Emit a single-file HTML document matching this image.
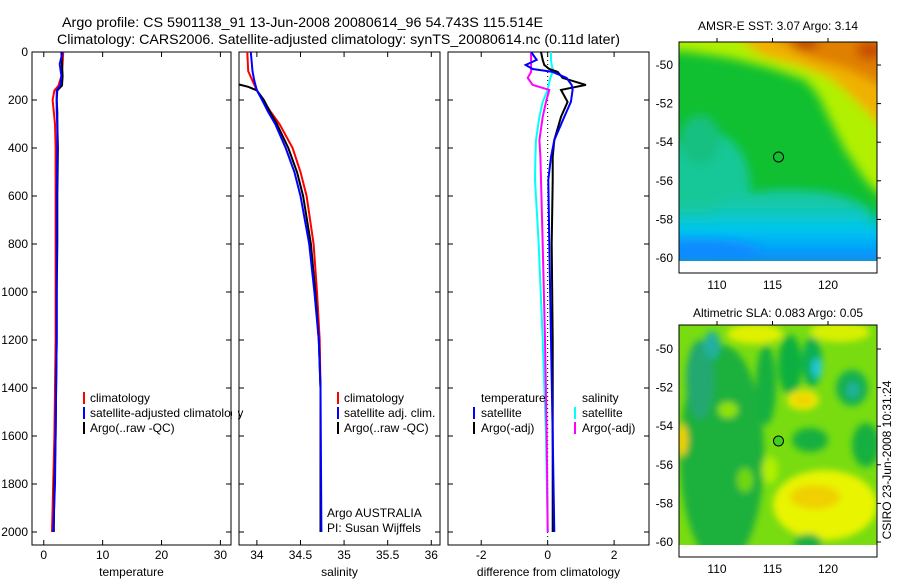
<!DOCTYPE html>
<html><head><meta charset="utf-8"><style>
html,body{margin:0;padding:0;background:#fff;}
svg{display:block;font-family:"Liberation Sans","DejaVu Sans",sans-serif;}
</style></head><body>
<svg id="fig" width="900" height="580" viewBox="0 0 900 580">
<defs>
<filter id="bl" x="-20%" y="-20%" width="140%" height="140%"><feGaussianBlur stdDeviation="5"/></filter>
<filter id="bl2" x="-20%" y="-20%" width="140%" height="140%"><feGaussianBlur stdDeviation="3.5"/></filter>
<clipPath id="c1"><rect x="679" y="42" width="198" height="219"/></clipPath>
<clipPath id="c2"><rect x="679" y="325" width="198" height="220"/></clipPath>
<linearGradient id="gtop" x1="0" y1="0" x2="0" y2="1">
<stop offset="0" stop-color="#00c8e0" stop-opacity="0"/><stop offset="0.4" stop-color="#00c8f0"/><stop offset="1" stop-color="#0a80ff"/></linearGradient>
</defs>
<text x="62" y="27" font-size="14" textLength="481" lengthAdjust="spacingAndGlyphs">Argo profile: CS 5901138_91 13-Jun-2008 20080614_96 54.743S 115.514E</text>
<text x="57" y="44" font-size="14" textLength="563" lengthAdjust="spacingAndGlyphs">Climatology: CARS2006. Satellite-adjusted climatology: synTS_20080614.nc (0.11d later)</text>

<g>
<text x="778" y="30" font-size="12" text-anchor="middle">AMSR-E SST: 3.07 Argo: 3.14</text>
<g clip-path="url(#c1)">
<rect x="660" y="30" width="240" height="250" fill="#10c030"/>
<g filter="url(#bl)">
<ellipse cx="705" cy="185" rx="45" ry="55" fill="#18c898"/>
<ellipse cx="700" cy="140" rx="20" ry="25" fill="#14c080"/>
<ellipse cx="790" cy="215" rx="80" ry="25" fill="#14c8a8"/>
<rect x="660" y="205" width="240" height="60" fill="url(#gtop)"/>
<ellipse cx="700" cy="250" rx="60" ry="12" fill="#0a8cff"/>
<polygon points="660,30 900,30 900,215 865,180 845,150 830,120 818,95 805,80 770,68 730,58 690,52 660,50" fill="#b0f000"/>
<polygon points="730,30 900,30 900,145 870,115 850,95 830,78 800,66 760,55" fill="#f0b000"/>
<polygon points="760,30 900,30 900,95 870,80 845,68 810,58" fill="#e08000"/>
<ellipse cx="805" cy="44" rx="14" ry="6" fill="#c04000"/>
<ellipse cx="870" cy="50" rx="14" ry="10" fill="#c85000"/>
</g>
</g>
<rect x="679" y="261" width="198" height="12" fill="#fff"/>
<rect x="679" y="42" width="198" height="231" fill="none" stroke="#000"/>
<circle cx="778.5" cy="157" r="5" fill="none" stroke="#000"/>
</g>

<g>
<text x="778" y="317" font-size="12" text-anchor="middle">Altimetric SLA: 0.083 Argo: 0.05</text>
<g clip-path="url(#c2)">
<rect x="660" y="320" width="240" height="240" fill="#78dc10"/>
<g filter="url(#bl2)">
<ellipse cx="722" cy="455" rx="42" ry="110" fill="#1cb03c"/>
<ellipse cx="700" cy="380" rx="14" ry="40" fill="#20a870"/>
<ellipse cx="712" cy="345" rx="8" ry="14" fill="#20b0a0"/>
<ellipse cx="682" cy="440" rx="6" ry="16" fill="#f0d000"/>
<ellipse cx="728" cy="410" rx="10" ry="8" fill="#90e400"/>
<ellipse cx="745" cy="480" rx="8" ry="12" fill="#70d810"/>
<ellipse cx="766" cy="385" rx="10" ry="40" fill="#18b040"/>
<ellipse cx="790" cy="365" rx="12" ry="30" fill="#10b040"/>
<ellipse cx="755" cy="334" rx="28" ry="10" fill="#e0f000"/>
<ellipse cx="840" cy="332" rx="30" ry="10" fill="#d8f000"/>
<ellipse cx="812" cy="362" rx="10" ry="25" fill="#10b050"/>
<ellipse cx="817" cy="368" rx="5" ry="10" fill="#20c8e0"/>
<ellipse cx="852" cy="388" rx="16" ry="18" fill="#14b050"/>
<ellipse cx="853" cy="390" rx="6" ry="8" fill="#20b0a0"/>
<ellipse cx="803" cy="400" rx="16" ry="10" fill="#f0e800"/>
<ellipse cx="803" cy="400" rx="10" ry="5" fill="#f0d000"/>
<ellipse cx="810" cy="440" rx="18" ry="12" fill="#14b040"/>
<ellipse cx="866" cy="445" rx="14" ry="22" fill="#14b040"/>
<ellipse cx="825" cy="505" rx="52" ry="35" fill="#e8f400"/>
<ellipse cx="815" cy="497" rx="25" ry="12" fill="#f0d000"/>
<ellipse cx="808" cy="542" rx="14" ry="8" fill="#14b040"/>
<ellipse cx="770" cy="470" rx="8" ry="14" fill="#b0f000"/>
</g>
</g>
<rect x="679" y="545" width="198" height="12" fill="#fff"/>
<rect x="679" y="325" width="198" height="232" fill="none" stroke="#000"/>
<circle cx="778.5" cy="441" r="5" fill="#40d020" stroke="#000"/>
</g>
<text transform="translate(891,460) rotate(-90)" font-size="12" text-anchor="middle">CSIRO 23-Jun-2008 10:31:24</text>
<g id="plots"></g>
</svg>
<script>
// ---- data ----
const tDepth = [0, 50, 100, 140, 160, 200, 250, 300, 400, 600, 800, 1000, 1200, 1400, 1600, 1800, 2000];
const tClim  = [3.3, 3.2, 3.0, 2.5, 1.8, 1.5, 1.7, 1.9, 2.0, 2.0, 2.0, 2.0, 2.0, 1.9, 1.8, 1.6, 1.4];
const tSat   = [3.2, 2.7, 3.0, 2.8, 2.2, 2.2, 2.2, 2.3, 2.3, 2.2, 2.2, 2.2, 2.2, 2.1, 2.0, 1.9, 1.6];
const tArgo  = [3.0, 3.1, 3.2, 3.1, 2.3, 2.2, 2.3, 2.3, 2.4, 2.3, 2.3, 2.2, 2.2, 2.1, 2.0, 1.8, 1.7];
const sDepth = [0, 80, 120, 160, 200, 250, 300, 400, 500, 600, 800, 1000, 1200, 1400, 2000];
const sClim  = [33.89, 33.9, 33.95, 34.0, 34.07, 34.16, 34.26, 34.41, 34.5, 34.57, 34.65, 34.69, 34.72, 34.73, 34.73];
const sSat   = [33.93, 33.95, 33.97, 34.0, 34.06, 34.13, 34.21, 34.33, 34.43, 34.5, 34.6, 34.66, 34.71, 34.73, 34.74];
const aDepth = [135, 145, 160, 200, 250, 300, 400, 500, 600, 800, 1000, 1200, 1400, 2000];
const sArgo  = [33.79, 33.9, 34.0, 34.08, 34.15, 34.23, 34.36, 34.46, 34.53, 34.62, 34.67, 34.71, 34.73, 34.73];
const dDepth  = [0, 33, 54, 71, 83, 108, 137, 158, 208, 270, 367, 437, 533, 800, 1200, 1600, 2000];
const dTSat   = [-0.5, -0.33, -0.66, -0.45, 0.15, 0.57, 0.72, 0.75, 0.7, 0.5, 0.2, 0.1, 0.02, 0.05, 0.1, 0.15, 0.2];
const dTArgo  = [-0.2, -0.15, -0.1, 0.05, 0.3, 0.45, 1.15, 0.4, 0.6, 0.4, 0.2, 0.15, 0.15, 0.12, 0.15, 0.15, 0.15];
const dSSat   = [0.1, 0.1, 0.12, 0.15, 0.15, 0.08, 0.03, 0.0, -0.15, -0.25, -0.35, -0.37, -0.38, -0.27, -0.15, -0.05, 0.0];
const dSArgo  = [-0.5, -0.5, -0.5, -0.5, -0.5, -0.6, -0.45, 0.05, -0.05, -0.15, -0.25, -0.22, -0.2, -0.15, -0.08, -0.03, 0.0];
const depthTicks = [0, 200, 400, 600, 800, 1000, 1200, 1400, 1600, 1800, 2000];
const tTicks = [0, 10, 20, 30];
const sTicks = [34, 34.5, 35, 35.5, 36];
const sTickLabels = ["34", "34.5", "35", "35.5", "36"];
const dTicks = [-2, 0, 2];
const lonTicks = [110, 115, 120];
const latTicks = [-50, -52, -54, -56, -58, -60];

const NS = "http://www.w3.org/2000/svg";
const root = document.getElementById("plots");
function mk(tag, at, parent) { const e = document.createElementNS(NS, tag); for (const k in at) e.setAttribute(k, at[k]); (parent || root).appendChild(e); return e; }
const Y0 = 52, Y1 = 545;
const yD = d => 52 + d * 0.24;

function panel(x0, x1, xmin, xmax, ticks, labels, xlabel, name) {
  const xs = v => x0 + (v - xmin) / (xmax - xmin) * (x1 - x0);
  const g = mk("g", {});
  
  
  mk("rect", { x: x0, y: Y0, width: x1 - x0, height: Y1 - Y0, fill: "none", stroke: "#000" }, g);
  depthTicks.forEach(d => {
    mk("line", { x1: x0, x2: x0 + 5, y1: yD(d), y2: yD(d), stroke: "#000" }, g);
    mk("line", { x1: x1, x2: x1 - 5, y1: yD(d), y2: yD(d), stroke: "#000" }, g);
  });
  ticks.forEach((t, i) => {
    mk("line", { x1: xs(t), x2: xs(t), y1: Y0, y2: Y0 + 5, stroke: "#000" }, g);
    mk("line", { x1: xs(t), x2: xs(t), y1: Y1, y2: Y1 - 5, stroke: "#000" }, g);
    const tx = mk("text", { x: xs(t), y: 559, "font-size": 12, "text-anchor": "middle" }, g);
    
    
    tx.textContent = labels[i];
  });
  const xl = mk("text", { x: (x0 + x1) / 2, y: 576, "font-size": 12, "text-anchor": "middle" }, g);
  
  
  xl.textContent = xlabel;
  return xs;
}
function line(xs, vals, depths, color, w, name) {
  const pts = vals.map((v, i) => xs(v).toFixed(1) + "," + yD(depths[i]).toFixed(1)).join(" ");
  const p = mk("polyline", { points: pts, fill: "none", stroke: color, "stroke-width": w });
  
  
}
function txt(x, y, s, name) {
  const t = mk("text", { x: x, y: y, "font-size": 12 });
  
  
  t.textContent = s;
}
function mark(x, y, c) {
  const m = mk("rect", { x: x, y: y - 10, width: 2, height: 12, fill: c });
  
  
}

depthTicks.forEach(d => {
  const t = mk("text", { x: 28, y: yD(d) + 4, "font-size": 12, "text-anchor": "end" });
  
  
  t.textContent = d;
});

const xT = panel(32, 231, -2.0, 31.8, tTicks, tTicks.map(String), "temperature", "temperature-panel");
line(xT, tClim, tDepth, "#f00", 2, "temperature-climatology-line");
line(xT, tArgo, tDepth, "#000", 2, "temperature-argo-line");
line(xT, tSat, tDepth, "#00f", 2, "temperature-satellite-line");
mark(83, 402, "#f00"); txt(90, 402, "climatology", "legend-entry-climatology");
mark(83, 417, "#00f"); txt(90, 417, "satellite-adjusted climatology", "legend-entry-satellite");
mark(83, 432, "#000"); txt(90, 432, "Argo(..raw -QC)", "legend-entry-argo");
mk("rect", { x: 232, y: 390, width: 6, height: 30, fill: "#fff" });

const xS = panel(239, 440, 33.795, 36.1, sTicks, sTickLabels, "salinity", "salinity-panel");
line(xS, sClim, sDepth, "#f00", 2, "salinity-climatology-line");
line(xS, sArgo, aDepth, "#000", 2, "salinity-argo-line");
line(xS, sSat, sDepth, "#00f", 2, "salinity-satellite-line");
mark(337, 402, "#f00"); txt(344, 402, "climatology", "legend-entry-climatology");
mark(337, 417, "#00f"); txt(344, 417, "satellite adj. clim.", "legend-entry-satellite");
mark(337, 432, "#000"); txt(344, 432, "Argo(..raw -QC)", "legend-entry-argo");
txt(327, 517, "Argo AUSTRALIA", "pi-institution");
txt(327, 532, "PI: Susan Wijffels", "pi-name");

const xDf = panel(448, 649, -3.0, 3.05, dTicks, dTicks.map(String), "difference from climatology", "difference-panel");
const z = mk("line", { x1: xDf(0), x2: xDf(0), y1: Y0, y2: 540, stroke: "#000", "stroke-dasharray": "1,3" });


line(xDf, dSSat, dDepth, "#0ff", 2, "salinity-satellite-diff-line");
line(xDf, dSArgo, dDepth, "#f0f", 2, "salinity-argo-diff-line");
line(xDf, dTArgo, dDepth, "#000", 2, "temperature-argo-diff-line");
line(xDf, dTSat, dDepth, "#00f", 2, "temperature-satellite-diff-line");
txt(481, 402, "temperature", "legend-header-temperature");
mark(473, 417, "#00f"); txt(481, 417, "satellite", "legend-entry-temp-satellite");
mark(473, 432, "#000"); txt(481, 432, "Argo(-adj)", "legend-entry-temp-argo");
txt(582, 402, "salinity", "legend-header-salinity");
mark(574, 417, "#0ff"); txt(582, 417, "satellite", "legend-entry-sal-satellite");
mark(574, 432, "#f0f"); txt(582, 432, "Argo(-adj)", "legend-entry-sal-argo");

function mapAxes(top, dataBot, bot, lat50, lat60, name) {
  const lx = v => 717 + (v - 110) * 11.1;
  const ly = v => lat50 + (v + 50) / -10 * (lat60 - lat50);
  const g = mk("g", {});
  
  
  lonTicks.forEach(v => {
    mk("line", { x1: lx(v), x2: lx(v), y1: top, y2: top - 4, stroke: "#000" }, g);
    const t = mk("text", { x: lx(v), y: bot + 16, "font-size": 12, "text-anchor": "middle" }, g);
    
    
    t.textContent = v;
  });
  latTicks.forEach(v => {
    mk("line", { x1: 877, x2: 881, y1: ly(v), y2: ly(v), stroke: "#000" }, g);
    const t = mk("text", { x: 673, y: ly(v) + 4, "font-size": 12, "text-anchor": "end" }, g);
    
    
    t.textContent = v;
  });
}
mapAxes(42, 261, 273, 65, 258, "sst-map-axes");
mapAxes(325, 545, 557, 349, 542, "sla-map-axes");
</script>
</body></html>
